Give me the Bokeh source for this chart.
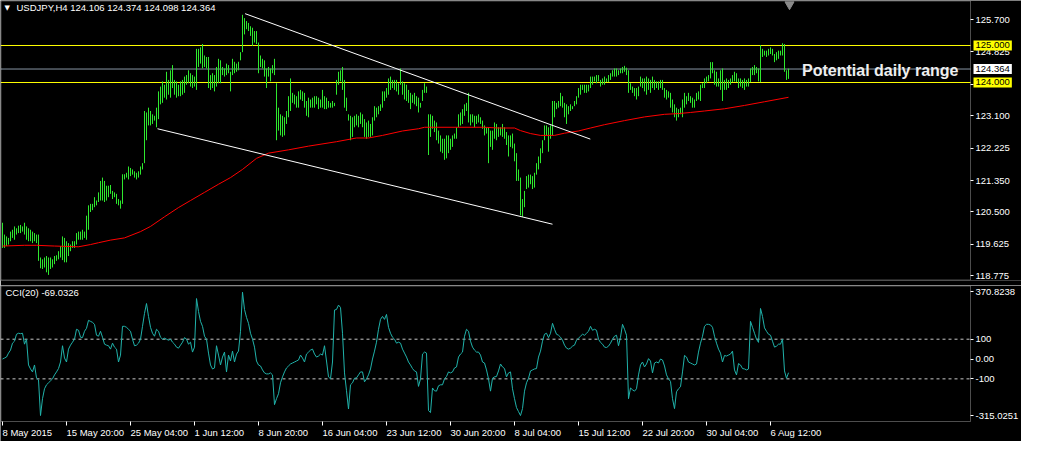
from bokeh.plotting import figure
from bokeh.layouts import column
from bokeh.models import (Range1d, LinearAxis, FixedTicker, Label, BoxAnnotation,
                          PrintfTickFormatter)
from bokeh.embed import file_html
from bokeh.resources import INLINE

# ---------------- data ----------------
symbol = "USDJPY,H4"
ohlc_last = [124.106, 124.374, 124.098, 124.364]

bar_high = [
    120.21, 119.89, 119.84, 119.80, 119.97, 120.02, 120.11, 120.06, 120.13, 120.15,
    120.11, 120.21, 120.11, 120.06, 120.02, 119.97, 119.93, 119.89, 119.89, 119.27,
    119.22, 119.27, 119.31, 119.27, 119.27, 119.22, 119.31, 119.33, 119.44, 119.58,
    119.84, 119.80, 119.71, 119.66, 119.62, 119.71, 119.71, 119.93, 119.97, 119.97,
    120.02, 119.97, 120.40, 120.68, 120.72, 120.72, 120.90, 120.81, 121.03, 121.34,
    121.43, 121.34, 121.21, 121.21, 121.23, 121.07, 121.03, 120.99, 120.85, 120.81,
    121.52, 121.52, 121.56, 121.73, 121.69, 121.65, 121.60, 121.56, 121.60, 121.73,
    121.82, 123.23, 123.19, 123.32, 123.23, 123.14, 123.10, 123.32, 123.76, 123.89,
    124.03, 123.94, 124.29, 124.07, 124.33, 124.47, 124.07, 124.03, 123.94, 124.03,
    124.07, 124.16, 124.20, 124.33, 124.25, 124.20, 124.16, 124.91, 124.91, 124.95,
    125.04, 124.73, 124.69, 124.69, 124.20, 124.25, 124.20, 124.42, 124.64, 124.60,
    124.42, 124.38, 124.51, 124.47, 124.29, 124.64, 124.56, 124.51, 124.56, 124.82,
    125.83, 125.74, 125.66, 125.61, 125.52, 125.48, 125.39, 125.39, 125.08, 124.73,
    124.64, 124.60, 124.38, 124.42, 124.38, 124.47, 124.64, 123.98, 123.32, 123.14,
    123.10, 123.06, 123.23, 123.63, 124.11, 123.72, 123.67, 123.63, 123.76, 123.80,
    123.76, 123.72, 123.50, 123.59, 123.54, 123.59, 123.63, 123.63, 123.59, 123.54,
    123.80, 123.63, 123.59, 123.50, 123.45, 123.50, 123.45, 124.07, 124.29, 124.33,
    124.42, 124.07, 123.59, 123.14, 123.10, 123.06, 123.10, 123.14, 123.10, 123.19,
    123.14, 123.01, 122.92, 122.97, 122.88, 123.06, 123.36, 123.32, 123.36, 123.41,
    123.76, 123.76, 123.85, 124.11, 124.16, 124.07, 124.07, 124.07, 123.98, 124.38,
    124.03, 123.98, 123.94, 123.80, 123.72, 123.67, 123.72, 123.63, 123.59, 123.45,
    123.80, 123.98, 123.89, 123.14, 123.14, 123.10, 122.97, 122.92, 122.70, 122.57,
    122.48, 122.48, 122.57, 122.57, 122.48, 122.57, 122.62, 122.79, 123.14, 123.19,
    123.28, 123.41, 123.45, 123.72, 123.14, 123.14, 123.10, 123.10, 123.14, 123.06,
    122.97, 122.84, 122.79, 122.79, 122.70, 122.70, 122.92, 122.88, 122.79, 122.79,
    122.88, 122.79, 122.66, 122.57, 122.57, 122.62, 122.35, 122.09, 121.65, 121.43,
    120.85, 121.07, 121.47, 121.51, 121.51, 121.47, 121.56, 121.82, 122.00, 122.22,
    122.44, 122.84, 122.84, 122.79, 122.84, 123.50, 123.50, 123.45, 123.50, 123.72,
    123.63, 123.45, 123.41, 123.36, 123.41, 123.36, 123.50, 123.63, 123.85, 123.94,
    123.94, 123.94, 123.94, 123.94, 124.16, 124.16, 124.16, 124.20, 124.20, 124.07,
    124.11, 124.16, 124.11, 124.20, 124.25, 124.33, 124.38, 124.38, 124.33, 124.38,
    124.42, 124.45, 124.40, 124.33, 123.98, 123.89, 123.85, 123.85, 123.89, 124.16,
    124.11, 124.11, 124.16, 124.11, 124.07, 124.16, 124.07, 124.03, 124.03, 124.07,
    124.07, 123.85, 123.80, 123.76, 123.72, 123.54, 123.41, 123.32, 123.28, 123.32,
    123.54, 123.72, 123.63, 123.72, 123.63, 123.59, 123.54, 123.72, 123.76, 123.94,
    123.98, 124.11, 124.16, 124.20, 124.55, 124.55, 124.33, 124.29, 124.11, 124.33,
    124.38, 124.07, 124.11, 124.07, 124.11, 124.20, 124.29, 124.25, 124.11, 124.11,
    124.07, 124.11, 124.07, 124.11, 124.38, 124.42, 124.47, 124.42, 124.38, 125.01,
    124.91, 124.86, 124.86, 124.91, 124.95, 124.91, 124.77, 124.82, 124.86, 124.86,
    125.06, 125.04, 124.33, 124.374,
]

bar_low = [
    119.53, 119.53, 119.58, 119.62, 119.71, 119.80, 119.75, 119.89, 119.93, 119.93,
    119.97, 119.89, 119.75, 119.71, 119.71, 119.66, 119.71, 119.66, 119.18, 118.98,
    118.96, 119.00, 118.87, 118.80, 118.96, 119.00, 119.09, 119.18, 119.22, 119.27,
    119.20, 119.14, 119.14, 119.31, 119.44, 119.53, 119.53, 119.62, 119.75, 119.75,
    119.75, 119.80, 119.75, 120.02, 120.50, 120.55, 120.63, 120.68, 120.77, 120.81,
    120.81, 120.77, 120.81, 120.90, 120.99, 120.85, 120.90, 120.72, 120.68, 120.59,
    120.72, 121.38, 121.43, 121.38, 121.47, 121.51, 121.43, 121.38, 121.43, 121.51,
    121.65, 121.82, 122.44, 122.84, 122.84, 122.88, 122.97, 122.79, 123.01, 123.41,
    123.45, 123.59, 123.54, 123.67, 123.59, 123.85, 123.67, 123.59, 123.63, 123.63,
    123.67, 123.72, 123.94, 123.98, 123.89, 123.85, 123.89, 123.80, 124.42, 124.51,
    124.38, 124.42, 124.38, 123.85, 123.80, 123.85, 123.76, 123.89, 123.98, 123.98,
    124.20, 124.16, 124.20, 124.25, 123.76, 124.20, 124.25, 124.29, 124.33, 124.60,
    124.82, 125.30, 125.44, 125.39, 125.26, 124.99, 125.08, 125.04, 124.25, 124.42,
    124.38, 124.16, 123.85, 124.16, 124.03, 124.25, 124.20, 122.44, 122.70, 122.57,
    122.53, 122.57, 122.88, 123.06, 123.23, 123.45, 123.41, 123.32, 123.32, 123.54,
    123.50, 123.32, 123.10, 123.06, 123.32, 123.32, 123.32, 123.41, 123.28, 123.32,
    123.32, 123.28, 123.28, 123.32, 123.32, 123.32, 123.36, 123.67, 123.94, 124.03,
    123.80, 123.32, 123.23, 122.97, 122.44, 122.53, 122.79, 122.84, 122.79, 122.88,
    122.79, 122.53, 122.48, 122.53, 122.53, 122.57, 122.97, 123.06, 123.14, 123.23,
    123.32, 123.50, 123.59, 123.67, 123.80, 123.85, 123.80, 123.76, 123.67, 123.94,
    123.67, 123.54, 123.50, 123.45, 123.28, 123.45, 123.41, 123.36, 123.19, 123.32,
    123.50, 123.72, 123.72, 122.04, 122.53, 122.75, 122.66, 122.44, 122.35, 122.13,
    122.09, 121.91, 121.95, 122.09, 122.18, 122.26, 122.48, 122.48, 122.79, 122.84,
    122.88, 123.10, 123.23, 122.92, 122.84, 122.92, 122.79, 122.88, 122.92, 122.88,
    122.75, 122.57, 122.62, 121.82, 122.26, 122.18, 122.48, 122.44, 122.53, 122.57,
    122.53, 122.48, 122.31, 122.00, 122.26, 122.22, 121.87, 121.34, 121.34, 120.41,
    120.37, 120.63, 121.12, 121.16, 121.25, 121.12, 121.16, 121.51, 121.65, 121.82,
    122.09, 122.44, 122.57, 122.13, 122.48, 122.57, 123.06, 123.28, 123.32, 123.36,
    123.32, 123.06, 122.88, 123.14, 123.23, 123.28, 123.36, 123.41, 123.59, 123.67,
    123.80, 123.72, 123.72, 123.76, 123.85, 123.94, 124.03, 123.98, 124.03, 123.89,
    123.94, 123.94, 124.01, 124.01, 124.07, 124.16, 124.16, 124.16, 124.20, 124.25,
    124.25, 124.29, 124.20, 123.72, 123.80, 123.72, 123.63, 123.54, 123.63, 123.89,
    123.85, 123.76, 123.67, 123.80, 123.72, 123.85, 123.80, 123.85, 123.80, 123.85,
    123.80, 123.59, 123.54, 123.59, 123.32, 123.19, 123.06, 122.97, 123.06, 123.14,
    123.06, 123.32, 123.41, 123.50, 123.45, 123.32, 123.32, 123.50, 123.54, 123.50,
    123.85, 123.85, 123.98, 124.03, 124.11, 124.25, 123.94, 123.89, 123.89, 123.80,
    123.50, 123.80, 123.80, 123.85, 123.94, 124.01, 124.03, 124.01, 123.85, 123.89,
    123.85, 123.80, 123.89, 123.89, 124.01, 124.20, 124.20, 124.25, 124.03, 124.01,
    124.69, 124.73, 124.69, 124.73, 124.77, 124.73, 124.55, 124.60, 124.64, 124.73,
    124.73, 124.29, 124.07, 124.098,
]

# moving average (red), read at sampled bars
ma_bar = [0, 11, 17, 26, 38, 44, 48, 54, 61, 69, 74, 81, 88, 94, 101, 108, 114, 120, 127, 133,
          143, 153, 167, 177, 183, 190, 200, 208, 211, 228, 241, 248, 256, 259, 264, 269, 276,
          281, 288, 294, 301, 311, 321, 331, 338, 344, 351, 361, 371, 381, 393]
ma_val = [119.58, 119.60, 119.60, 119.58, 119.56, 119.62, 119.67, 119.74, 119.80, 119.97,
          120.11, 120.37, 120.62, 120.81, 121.03, 121.25, 121.43, 121.65, 121.95, 122.09,
          122.18, 122.28, 122.40, 122.50, 122.50, 122.57, 122.69, 122.75, 122.79, 122.79,
          122.79, 122.77, 122.77, 122.70, 122.62, 122.57, 122.57, 122.63, 122.69, 122.77,
          122.86, 122.97, 123.07, 123.14, 123.16, 123.19, 123.23, 123.29, 123.38, 123.48,
          123.60]

cci = [
    0, 5, 10, 30, 45, 80, 90, 125, 130, 128,
    130, 75, 100, -30, -50, -65, -30, -95, -105, -285,
    -200, -150, -130, -120, -110, -100, -80, -65, -48, -15,
    67, 5, -15, 50, 70, 85, 100, 150, 145, 110,
    108, 140, 155, 195, 190, 185, 175, 120, 115, 140,
    110, 75, 70, 67, 50, 80, 60, 50, -15, 20,
    165, 165, 160, 150, 140, 100, 67, 70, 80, 100,
    165, 230, 280, 215, 160, 130, 115, 150, 140, 110,
    100, 105, 100, 95, 100, 85, 75, 60, 55, 70,
    85, 108, 100, 75, 85, 35, 60, 305, 240, 190,
    165, 115, 100, 30, -30, -50, -45, 67, 20, -30,
    10, 35, -65, 20, -10, 40, -15, 25, 40, 140,
    337, 250, 210, 180, 130, 100, 60, -10, -30, -35,
    -55, -70, -75, -75, -70, -80, -230, -200, -175, -120,
    -90, -65, -45, -35, -25, -20, -15, -10, -5, 20,
    5, -15, 25, 35, 45, 50, 25, 10, 15, 25,
    20, 67, -10, -90, -100, -15, 247, 250, 272, 260,
    130, -70, -160, -252, -130, -120, -97, -95, -80, -65,
    -65, -115, -100, -80, -50, 0, 40, 85, 150, 200,
    215, 200, 225, 160, 130, 110, 100, 80, 85, 80,
    50, 30, 10, -15, -30, -48, -60, -65, -138, -100,
    25, 35, 30, -260, -270, -146, -160, -162, -135, -130,
    -130, -100, -88, -65, -70, -65, -45, -40, 10, 25,
    35, 115, 150, 140, 90, 60, 45, 35, 35, 20,
    -15, -20, -55, -100, -162, -97, -90, -88, -60, -25,
    -40, -48, -90, -70, -65, -150, -200, -245, -265, -285,
    -250, -162, -120, -97, -60, -55, -50, -48, 10, 40,
    90, 125, 130, 108, 130, 180, 150, 125, 120, 110,
    95, 70, 55, 50, 55, 65, 70, 95, 105, 115,
    125, 120, 130, 140, 165, 145, 150, 145, 100, 84,
    75, 60, 58, 65, 80, 100, 115, 120, 67, 110,
    175, 150, 120, -200, -146, -155, -162, -150, -80, -30,
    -15, -40, -25, 2, -10, -70, -20, -15, -20, 0,
    -5, -35, -80, -100, -113, -200, -250, -165, -150, -140,
    -65, 18, 10, -15, -20, -25, -30, -25, 35, 80,
    115, 165, 175, 175, 172, 160, 115, 80, 50, 30,
    -15, 18, 15, 20, 25, 40, -55, -80, -23, -30,
    -48, -50, -55, -50, 190, 160, 130, 100, 84, 255,
    215, 157, 140, 125, 120, 90, 60, 65, 75, 75,
    100, -60, -97, -69.0326,
]

# drawn objects: trend lines (bar index, price), horizontal levels
upper_trend_x = [121.3, 293.9]
upper_trend_y = [125.86, 122.47]
lower_trend_x = [77.5, 275.0]
lower_trend_y = [122.75, 120.17]
range_levels = [125.000, 124.000]
last_price = 124.364
range_text = "Potential daily range"

# axes
price_min, price_max = 118.6486, 126.2162
price_ticks = [125.700, 124.825, 123.950, 123.100, 122.225, 121.350, 120.500, 119.625, 118.775]
cci_period = 20
cci_min, cci_max = -315.0251, 370.8238
cci_levels = [100.0, -100.0]
time_ticks = [0, 32, 64, 96, 128, 160, 192, 224, 256, 288, 320, 352, 384]
time_labels = ["8 May 2015", "15 May 20:00", "25 May 04:00", "1 Jun 12:00", "8 Jun 20:00",
               "16 Jun 04:00", "23 Jun 12:00", "30 Jun 20:00", "8 Jul 04:00", "15 Jul 12:00",
               "22 Jul 20:00", "30 Jul 04:00", "6 Aug 12:00"]

# ---------------- style ----------------
FONT = "Liberation Sans"
FS = "9.5px"
GREEN = "#2ee82e"
CCI_COLOR = "#20b2aa"
TOTAL_W = 1021
CHART_W = 970          # width of the plotting box; the rest is the price scale
PX_PER_BAR = 2.0
X0 = -1.0
XB = X0 + CHART_W / PX_PER_BAR      # right edge of the chart box
XE = X0 + TOTAL_W / PX_PER_BAR
MAIN_H = 280
CCI_H = 136
TIME_H = 20

n = min(len(bar_high), len(bar_low), len(cci))
bar_x = list(range(n))

common = dict(output_backend="svg", toolbar_location=None,
              background_fill_color="black", border_fill_color="black",
              outline_line_color=None, x_axis_location=None, y_axis_location=None,
              min_border_left=0, min_border_top=0, min_border_right=0)

has_padding = "padding" in Label.properties()


def tag(x, y, text, bg):
    kw = dict(x=x, y=y, text=text, text_font=FONT, text_font_size=FS, text_color="black",
              background_fill_color=bg, text_align="left", text_baseline="middle")
    if has_padding:
        kw["padding"] = 2
    return Label(**kw)


def scale_axis(ticker, **kw):
    return LinearAxis(ticker=ticker, fixed_location=XB, axis_line_color=None,
                      major_tick_line_color="white", major_tick_out=3, major_tick_in=0,
                      minor_tick_line_color=None, major_label_text_color="white",
                      major_label_text_font=FONT, major_label_text_font_size=FS,
                      major_label_standoff=2, **kw)


# ---------------- main price panel ----------------
p = figure(frame_width=TOTAL_W, frame_height=MAIN_H, x_range=Range1d(X0, XE),
           y_range=Range1d(price_min, price_max), min_border_bottom=5, **common)
p.xgrid.visible = False
p.ygrid.visible = False
ppu = MAIN_H / (price_max - price_min)  # pixels per price unit

p.add_layout(BoxAnnotation(left=X0 + 0.5 / PX_PER_BAR, right=XB,
                           top=price_max - 0.5 / ppu, bottom=price_min + 0.5 / ppu,
                           fill_color=None, line_color="white", line_width=1))

p.segment(x0=[X0] * len(range_levels), x1=[XB] * len(range_levels), y0=range_levels,
          y1=range_levels, line_color="yellow", line_width=1)
p.segment(x0=[X0], x1=[XB], y0=[last_price], y1=[last_price], line_color="#8796a5",
          line_width=1)

p.segment(x0=bar_x, y0=bar_low[:n], x1=bar_x, y1=bar_high[:n], line_color=GREEN, line_width=1)
p.line(ma_bar, ma_val, line_color="red", line_width=1)
p.line(upper_trend_x, upper_trend_y, line_color="white", line_width=1)
p.line(lower_trend_x, lower_trend_y, line_color="white", line_width=1)

# chart-shift marker above last bar
p.scatter(x=[n - 0.5], y=[price_max - 4 / ppu], marker="inverted_triangle", size=9,
          fill_color="#8a8a8a", line_color="#8a8a8a")

p.add_layout(scale_axis(FixedTicker(ticks=price_ticks),
                        formatter=PrintfTickFormatter(format="%.3f")), "right")

tag_x = XB + 3 / PX_PER_BAR
for lv in range_levels:
    p.add_layout(tag(tag_x, lv, f"{lv:.3f}", "yellow"))
p.add_layout(tag(tag_x, last_price, f"{last_price:.3f}", "white"))

p.add_layout(Label(x=XB - 12 / PX_PER_BAR, y=last_price - 1.5 / ppu, text=range_text,
                   text_font=FONT, text_font_size="16px", text_font_style="bold",
                   text_color="#eeeeee", text_align="right", text_baseline="alphabetic"))

title_y = price_max - 7 / ppu
p.add_layout(Label(x=X0 + 4 / PX_PER_BAR, y=title_y, text="\u25bc", text_font="DejaVu Sans",
                   text_font_size="7px", text_color="white", text_align="left",
                   text_baseline="middle"))
p.add_layout(Label(x=X0 + 16 / PX_PER_BAR, y=title_y,
                   text=symbol + "  " + " ".join(f"{v:.3f}" for v in ohlc_last),
                   text_font=FONT, text_font_size=FS, text_color="white",
                   text_align="left", text_baseline="middle"))

# ---------------- CCI panel (with the time scale underneath) ----------------
upx = (cci_max - cci_min) / CCI_H  # units per pixel
q = figure(frame_width=TOTAL_W, frame_height=CCI_H + TIME_H, x_range=p.x_range,
           y_range=Range1d(cci_min - TIME_H * upx, cci_max), min_border_bottom=0, **common)
q.xgrid.visible = False
q.ygrid.visible = False

q.add_layout(BoxAnnotation(left=X0 + 0.5 / PX_PER_BAR, right=XB, top=cci_max - 0.5 * upx,
                           bottom=cci_min, fill_color=None, line_color="white", line_width=1))

q.segment(x0=[X0] * len(cci_levels), x1=[XB] * len(cci_levels), y0=cci_levels, y1=cci_levels,
          line_color="#c8c8c8", line_dash="3 3", line_width=1)
q.line(bar_x, cci[:n], line_color=CCI_COLOR, line_width=1)

top_tick = cci_max - 6 * upx
bot_tick = cci_min + 6 * upx
q.add_layout(scale_axis(FixedTicker(ticks=[top_tick, 100.0, 0.0, -100.0, bot_tick]),
                        major_label_overrides={top_tick: f"{cci_max:.4f}", 100.0: "100",
                                               0.0: "0.00", -100.0: "-100",
                                               bot_tick: f"{cci_min:.4f}"}), "right")

ta = LinearAxis(ticker=FixedTicker(ticks=time_ticks), fixed_location=cci_min,
                major_label_overrides={t: "" for t in time_ticks},
                axis_line_color=None, major_tick_line_color="white", major_tick_out=4,
                major_tick_in=0, minor_tick_line_color=None)
q.add_layout(ta, "below")

for t, lab in zip(time_ticks, time_labels):
    q.add_layout(Label(x=t, y=cci_min - 11 * upx, text=lab, text_font=FONT, text_font_size=FS,
                       text_color="white", text_align="left", text_baseline="middle"))

q.add_layout(Label(x=X0 + 5 / PX_PER_BAR, y=cci_max - 7 * upx,
                   text=f"CCI({cci_period}) {cci[n - 1]:.4f}", text_font=FONT,
                   text_font_size=FS, text_color="white", text_align="left",
                   text_baseline="middle"))

layout = column(p, q)
open("out.html", "w").write(file_html(layout, INLINE, "USDJPY,H4"))
